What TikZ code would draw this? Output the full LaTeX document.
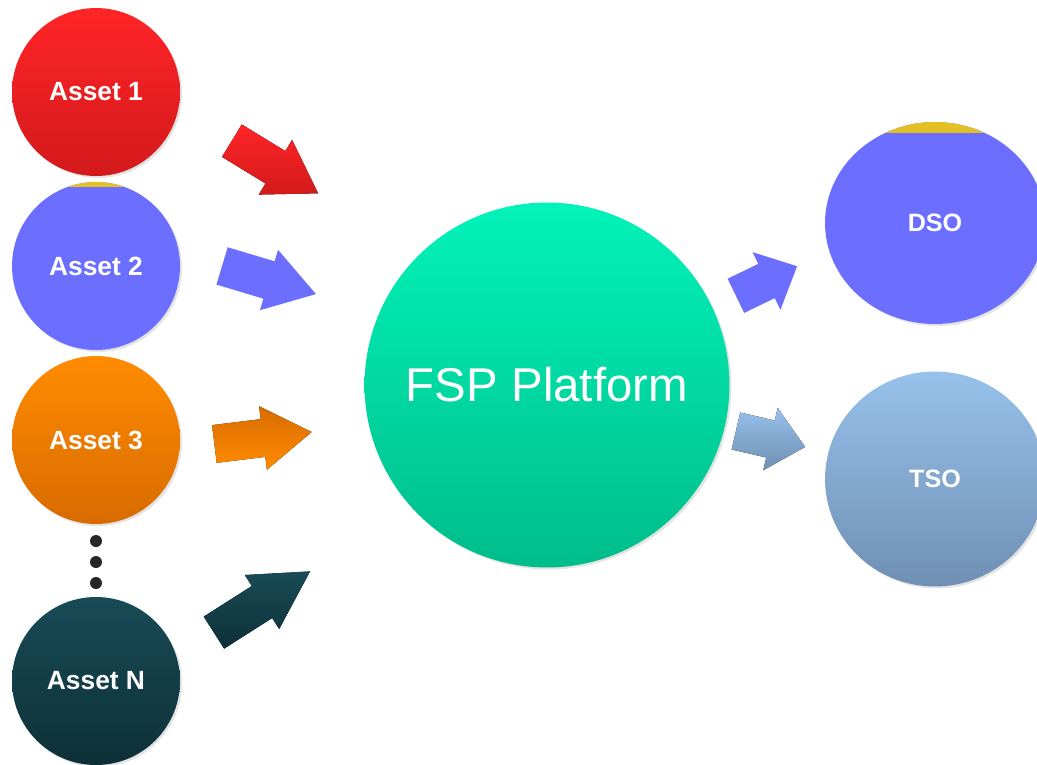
\documentclass[tikz,border=0pt]{standalone}
\usepackage{fontspec}
\setmainfont{Liberation Sans}
\usetikzlibrary{shapes.geometric,shadows}

\definecolor{assetred}{HTML}{FF2428}
\definecolor{assetreddark}{HTML}{D31A1B}
\definecolor{assetblue}{HTML}{6B6EFF}
\definecolor{assetgold}{HTML}{E6C21E}
\definecolor{assetorange}{HTML}{FF8C00}
\definecolor{assetorangedark}{HTML}{D86B00}
\definecolor{assetteal}{HTML}{184B56}
\definecolor{assettealdark}{HTML}{0E3038}
\definecolor{fspgreen}{HTML}{02F3BA}
\definecolor{fspgreendark}{HTML}{00BD8A}
\definecolor{tsoblue}{HTML}{97C1EB}
\definecolor{tsobluedark}{HTML}{6F8FB3}

\tikzset{
    softshadow/.style={drop shadow={shadow xshift=0.04cm, shadow yshift=-0.04cm, opacity=0.22}},
    asset/.style={circle, minimum size=3.36cm, inner sep=0pt, text=white,
        font=\bfseries\fontsize{15}{18}\selectfont, softshadow},
    operator/.style={ellipse, minimum width=4.4cm, inner sep=0pt, text=white,
        font=\bfseries\fontsize{14.3}{17}\selectfont, softshadow},
    goldtop/.style={path picture={\shade[top color=assetgold, bottom color=assetblue]
        (path picture bounding box.north west) rectangle ([yshift=-#1]path picture bounding box.north east);}}
}

\begin{document}
\begin{tikzpicture}[x=0.02cm, y=-0.02cm]

    \useasboundingbox (0,0) rectangle (1037,764);
    \clip (0,0) rectangle (1037,764);

    % ASSETS
    \node[asset, top color=assetred, bottom color=assetreddark] (asset1) at (96,92) {Asset 1};
    \node[asset, fill=assetblue, goldtop=0.09cm] (asset2) at (96,266) {Asset 2};
    \node[asset, top color=assetorange, bottom color=assetorangedark] (asset3) at (96,440) {Asset 3};
    \node[asset, top color=assetteal, bottom color=assettealdark] (assetN) at (96,681) {Asset N};

    % DOTS
    \foreach \y in {541,562,583}
        \fill[black!85] (96,\y) circle (0.12cm);

    % FSP PLATFORM
    \node[circle, minimum size=7.3cm, inner sep=0pt, text=white, softshadow,
        top color=fspgreen, bottom color=fspgreendark,
        font=\fontsize{27}{32}\selectfont] (fsp) at (547,385) {FSP Platform};

    % SYSTEM OPERATORS
    \node[operator, minimum height=4.04cm, fill=assetblue, goldtop=0.2cm] (dso) at (935,223) {DSO};
    \node[operator, minimum height=4.3cm, top color=tsoblue, bottom color=tsobluedark] (tso) at (935,479) {TSO};

    % ARROWS INTO THE PLATFORM
    \fill[top color=assetred, bottom color=assetreddark, shift={(275,167)}, rotate=-31.4]
        (-50.5,-19) -- (0.5,-19) -- (0.5,-32) -- (50.5,0) -- (0.5,32) -- (0.5,19) -- (-50.5,19) -- cycle;
    \fill[assetblue, shift={(269,280)}, rotate=-16.7]
        (-49,-19.5) -- (0,-19.5) -- (0,-31.5) -- (49,0) -- (0,31.5) -- (0,19.5) -- (-49,19.5) -- cycle;
    \fill[top color=assetorangedark, bottom color=assetorange, shift={(263,438)}, rotate=7]
        (-49,-19) -- (0,-19) -- (0,-32) -- (49,0) -- (0,32) -- (0,19) -- (-49,19) -- cycle;
    \fill[top color=assetteal, bottom color=assettealdark, shift={(262,602)}, rotate=32.5]
        (-57,-19) -- (0,-19) -- (0,-32) -- (57,0) -- (0,32) -- (0,19) -- (-57,19) -- cycle;

    % ARROWS OUT OF THE PLATFORM
    \fill[assetblue, shift={(766.5,281)}, rotate=25.8]
        (-34,-19) -- (0,-19) -- (0,-32) -- (34,0) -- (0,32) -- (0,19) -- (-34,19) -- cycle;
    \fill[top color=tsoblue, bottom color=tsobluedark, shift={(770.5,439)}, rotate=-13]
        (-35.5,-19) -- (0,-19) -- (0,-32) -- (35.5,0) -- (0,32) -- (0,19) -- (-35.5,19) -- cycle;

\end{tikzpicture}
\end{document}
